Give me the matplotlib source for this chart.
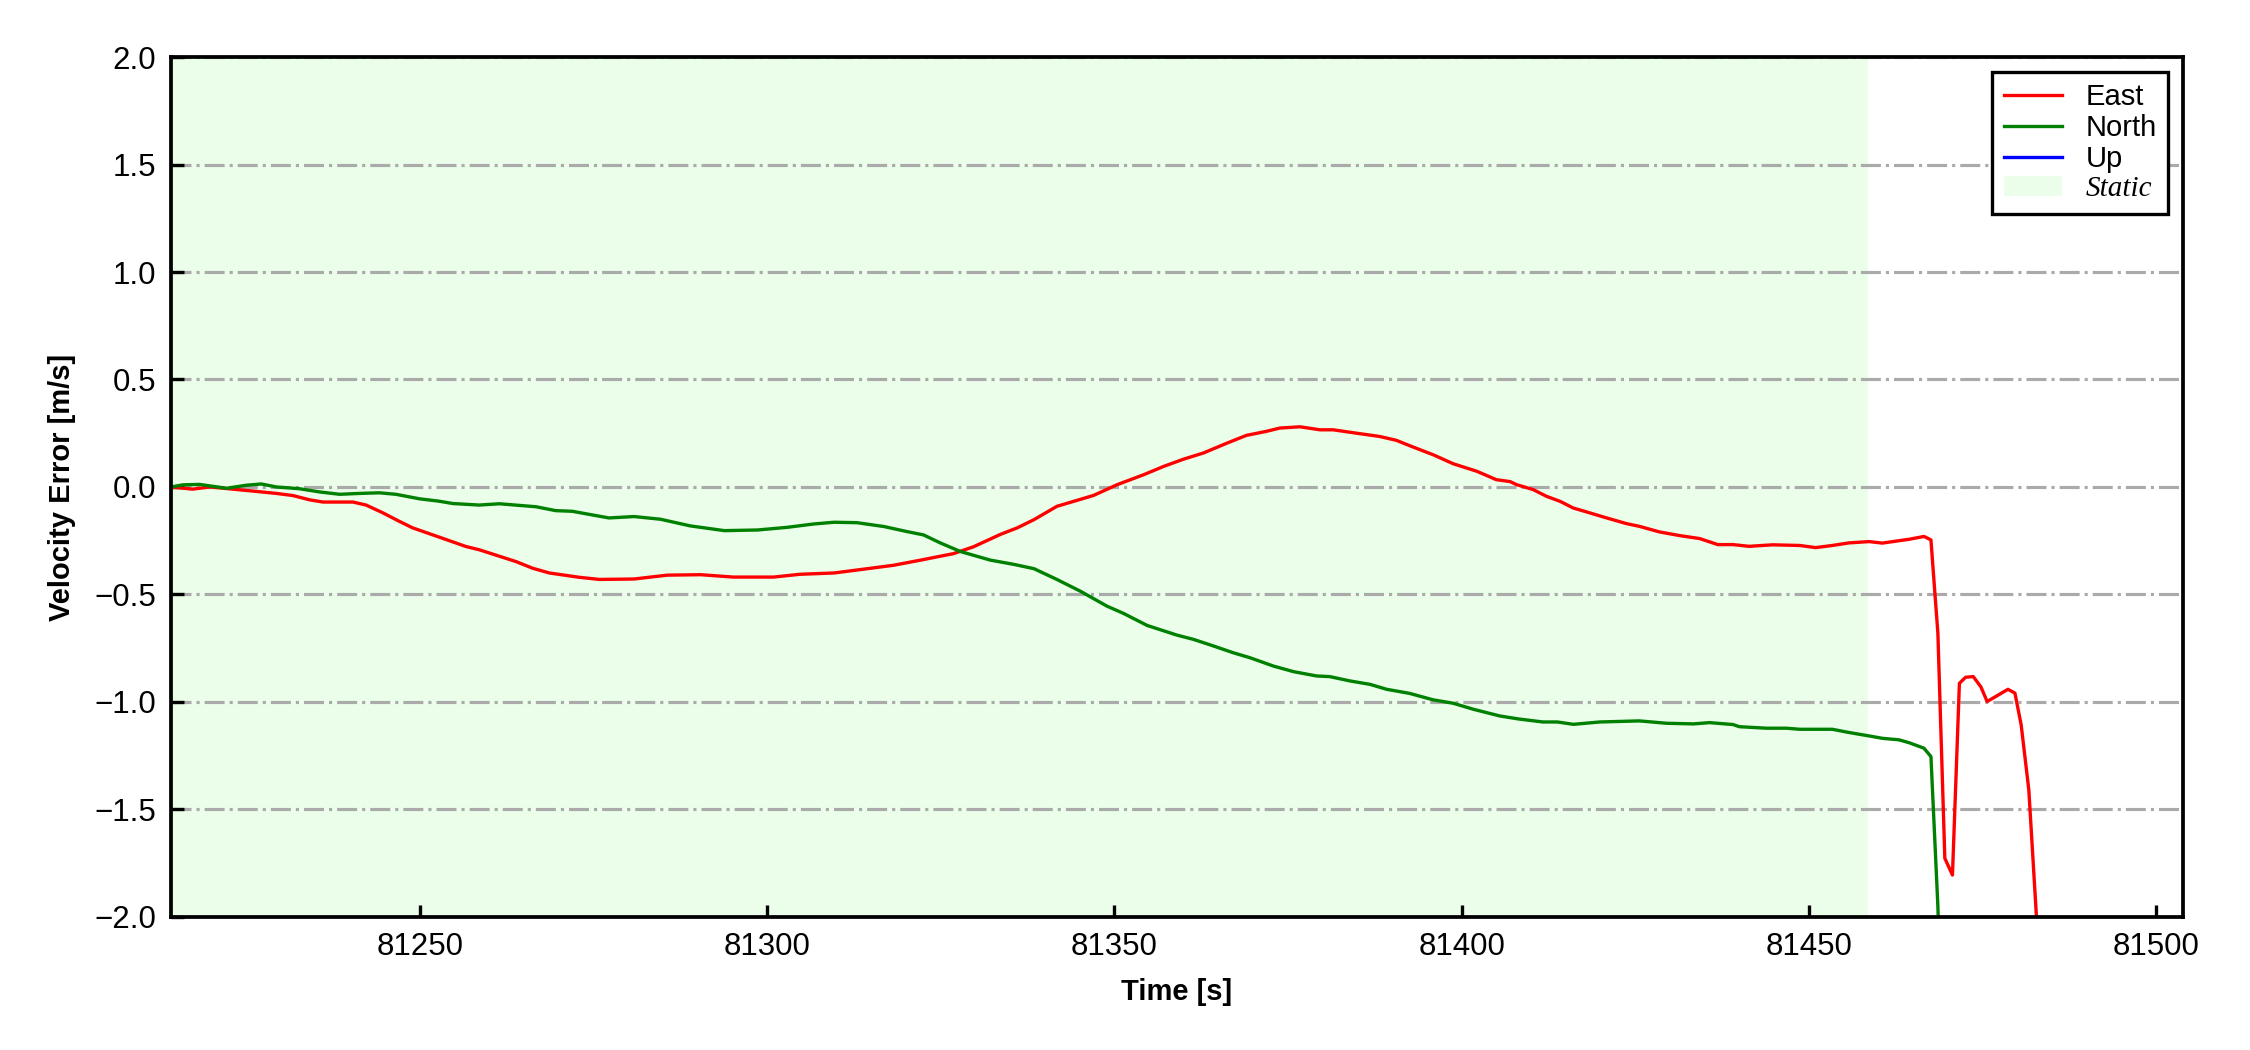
import matplotlib
matplotlib.use("Agg")
import matplotlib.pyplot as plt
import numpy as np

plt.rcParams['font.family'] = ['Liberation Sans', 'DejaVu Sans']

# ---- data ----
t_east = [81214.1, 81217.2, 81219.7, 81223.0, 81226.2, 81229.3, 81231.7, 81234.1, 81236.0, 81240.3,
          81242.2, 81244.6, 81247.0, 81248.9, 81252.8, 81256.6, 81258.5, 81263.8, 81266.2, 81268.6,
          81272.9, 81275.8, 81280.8, 81285.6, 81290.4, 81295.1, 81300.9, 81304.7, 81309.6, 81314.4,
          81318.2, 81322.1, 81326.8, 81329.7, 81333.6, 81336.0, 81338.4, 81341.7, 81344.1, 81347.0,
          81350.4, 81354.2, 81357.1, 81360.0, 81362.8, 81366.2, 81369.0, 81371.9, 81373.8, 81376.7,
          81379.6, 81381.5, 81384.9, 81388.2, 81390.6, 81393.0, 81395.9, 81398.8, 81402.2, 81405.0,
          81407.0, 81407.9, 81410.3, 81412.2, 81414.2, 81416.1, 81418.0, 81420.9, 81423.7, 81425.6,
          81428.5, 81431.4, 81434.3, 81436.9, 81439.1, 81441.4, 81444.8, 81448.7, 81451.0, 81453.4,
          81455.8, 81458.7, 81460.6, 81464.5, 81466.6, 81467.6, 81468.6, 81469.6, 81470.7, 81471.7,
          81472.6, 81473.7, 81474.8, 81475.7, 81478.7, 81479.7, 81480.6, 81481.7, 81482.8, 81483.8]
v_east = [0.0, -0.01, 0.0, -0.01, -0.02, -0.03, -0.04, -0.06, -0.07, -0.07,
          -0.084, -0.12, -0.16, -0.19, -0.234, -0.277, -0.292, -0.347, -0.378, -0.40,
          -0.42, -0.43, -0.428, -0.41, -0.408, -0.419, -0.419, -0.406, -0.40, -0.38,
          -0.364, -0.34, -0.31, -0.278, -0.22, -0.19, -0.152, -0.09, -0.067, -0.039,
          0.011, 0.057, 0.096, 0.13, 0.158, 0.204, 0.24, 0.259, 0.274, 0.28,
          0.266, 0.266, 0.25, 0.235, 0.217, 0.186, 0.15, 0.108, 0.073, 0.034,
          0.025, 0.011, -0.012, -0.043, -0.067, -0.098, -0.116, -0.144, -0.17, -0.183,
          -0.209, -0.226, -0.24, -0.268, -0.268, -0.276, -0.269, -0.272, -0.282, -0.272,
          -0.26, -0.254, -0.261, -0.243, -0.23, -0.246, -0.68, -1.727, -1.805, -0.913,
          -0.885, -0.882, -0.93, -0.998, -0.941, -0.959, -1.107, -1.409, -2.0, -2.7]

t_north = [81214.1, 81215.8, 81218.2, 81222.1, 81224.9, 81227.1, 81229.3, 81232.6, 81235.5, 81238.4,
           81241.2, 81244.1, 81246.5, 81249.9, 81252.7, 81254.7, 81258.5, 81261.4, 81266.7, 81269.5,
           81271.9, 81275.3, 81277.2, 81280.8, 81284.6, 81288.9, 81293.8, 81298.6, 81302.9, 81306.7,
           81309.6, 81312.9, 81316.8, 81320.2, 81322.5, 81324.9, 81327.8, 81332.1, 81335.5, 81338.4,
           81341.7, 81345.1, 81348.9, 81351.3, 81354.7, 81359.0, 81361.4, 81364.3, 81367.1, 81369.5,
           81372.9, 81375.8, 81379.1, 81381.0, 81383.9, 81386.8, 81389.2, 81392.5, 81395.9, 81398.8,
           81401.7, 81405.5, 81408.2, 81411.7, 81413.8, 81416.1, 81419.9, 81425.6, 81429.5, 81433.4,
           81435.7, 81439.1, 81440.0, 81443.9, 81446.8, 81448.7, 81453.4, 81455.8, 81458.7, 81460.6,
           81463.0, 81464.5, 81466.6, 81467.6, 81468.6, 81469.6]
v_north = [0.0, 0.01, 0.012, -0.006, 0.008, 0.014, 0.0, -0.008, -0.023, -0.034,
           -0.03, -0.027, -0.034, -0.055, -0.066, -0.077, -0.084, -0.078, -0.092, -0.11,
           -0.113, -0.133, -0.144, -0.1375, -0.15, -0.181, -0.203, -0.20, -0.1875, -0.172,
           -0.164, -0.166, -0.184, -0.208, -0.223, -0.26, -0.30, -0.34, -0.36, -0.38,
           -0.43, -0.485, -0.554, -0.588, -0.644, -0.689, -0.709, -0.74, -0.771, -0.794,
           -0.833, -0.859, -0.879, -0.882, -0.902, -0.918, -0.941, -0.96, -0.99, -1.006,
           -1.034, -1.065, -1.079, -1.093, -1.093, -1.104, -1.093, -1.088, -1.099, -1.102,
           -1.096, -1.105, -1.115, -1.122, -1.122, -1.127, -1.127, -1.142, -1.158, -1.169,
           -1.176, -1.19, -1.215, -1.254, -1.95, -3.0]

t_up = []
v_up = []

static_start = 81214.1
static_end = 81458.6

x_limits = (81214.1, 81503.9)
y_limits = (-2.0, 2.0)
x_ticks = [81250, 81300, 81350, 81400, 81450, 81500]
y_ticks = [-2.0, -1.5, -1.0, -0.5, 0.0, 0.5, 1.0, 1.5, 2.0]

# ---- figure ----
fig = plt.figure(figsize=(7.5, 3.5), dpi=300)
ax = fig.add_axes([0.076, 0.1267, 0.8942, 0.819])

ax.axvspan(static_start, static_end, facecolor='palegreen', alpha=0.2, edgecolor='none',
           label='Static', zorder=0)
ax.plot(t_east, v_east, color='red', lw=0.8, label='East', zorder=3)
ax.plot(t_north, v_north, color='green', lw=0.8, label='North', zorder=3)
ax.plot(t_up, v_up, color='blue', lw=0.8, label='Up', zorder=3)

ax.set_xlim(*x_limits)
ax.set_ylim(*y_limits)
ax.set_xticks(x_ticks)
ax.set_yticks(y_ticks)
ax.yaxis.grid(True, linestyle='-.', color='#aaaaaa', lw=0.75, zorder=1)
ax.set_axisbelow(False)
ax.tick_params(direction='in', length=3, width=0.8, labelsize=7.5, top=False, right=False)
ax.ticklabel_format(axis='x', useOffset=False, style='plain')
for s in ax.spines.values():
    s.set_linewidth(0.9)
    s.set_zorder(5)

ax.set_xlabel('Time [s]', fontsize=7, fontweight='bold', labelpad=4)
ax.set_ylabel('Velocity Error [m/s]', fontsize=7, fontweight='bold', labelpad=4.5)

h, l = ax.get_legend_handles_labels()
order = [l.index('East'), l.index('North'), l.index('Up'), l.index('Static')]
leg = ax.legend([h[i] for i in order], [l[i] for i in order], loc='upper right',
                fontsize=7, fancybox=False, framealpha=1, edgecolor='black',
                labelspacing=0.1, borderpad=0.4, handlelength=2.0)
leg.get_frame().set_linewidth(0.8)
st = leg.get_texts()[3]
st.set_fontfamily(['Liberation Serif', 'DejaVu Serif'])
st.set_fontstyle('italic')

fig.savefig('out.png', dpi=300)
